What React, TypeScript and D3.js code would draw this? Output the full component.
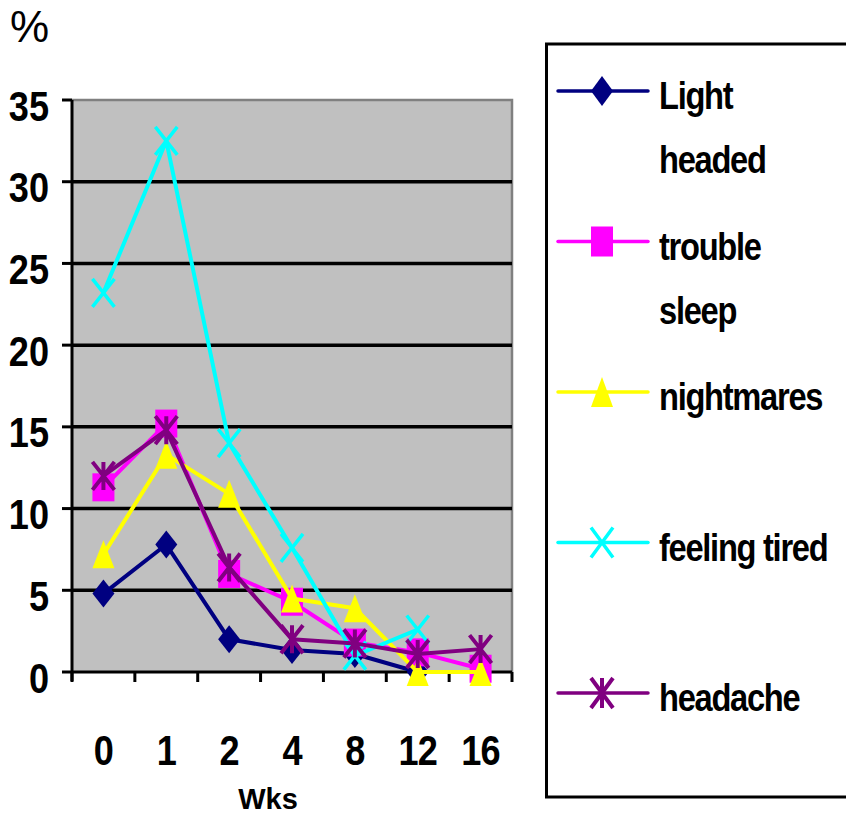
import React from "react";
import * as d3 from "d3";

// Weeks since start (category axis)
const weeks: string[] = ["0", "1", "2", "4", "8", "12", "16"];

// Percentage of patients reporting each symptom
const lightHeaded: (number | null)[] = [4.8, 7.8, 2.0, 1.35, 1.1, 0, 0];
const troubleSleep: (number | null)[] = [11.3, 15.2, 6.0, 4.3, 1.8, 1.2, 0.2];
const nightmares: (number | null)[] = [7.2, 13.3, 10.9, 4.5, 3.9, 0, 0];
const feelingTired: (number | null)[] = [23.2, 32.5, 14.0, 7.6, 1.0, 2.6, null];
const headache: (number | null)[] = [12.0, 14.8, 6.4, 2.0, 1.75, 1.1, 1.4];

const yTicks: number[] = [0, 5, 10, 15, 20, 25, 30, 35];

type Marker = "diamond" | "square" | "triangle" | "x" | "star";

const series = [
  { labels: ["Light", "headed"], values: lightHeaded, color: "#000080", marker: "diamond" as Marker },
  { labels: ["trouble", "sleep"], values: troubleSleep, color: "#FF00FF", marker: "square" as Marker },
  { labels: ["nightmares"], values: nightmares, color: "#FFFF00", marker: "triangle" as Marker },
  { labels: ["feeling tired"], values: feelingTired, color: "#00FFFF", marker: "x" as Marker },
  { labels: ["headache"], values: headache, color: "#800080", marker: "star" as Marker },
];

const W = 846;
const H = 815;
const plot = { left: 72, right: 512, top: 100, bottom: 672 };

const FONT = "'Liberation Sans', Arial, sans-serif";

// Marker shape drawn around (0,0); rx/ry are half width/height
function MarkerShape({ type, color, rx, ry }: { type: Marker; color: string; rx: number; ry: number }) {
  switch (type) {
    case "diamond":
      return <path d={`M0,${-ry}L${rx},0L0,${ry}L${-rx},0Z`} fill={color} />;
    case "square":
      return <rect x={-rx} y={-ry} width={rx * 2} height={ry * 2} fill={color} />;
    case "triangle":
      return <path d={`M0,${-ry}L${rx},${ry}L${-rx},${ry}Z`} fill={color} />;
    case "x":
      return (
        <path
          d={`M${-rx},${-ry}L${rx},${ry}M${rx},${-ry}L${-rx},${ry}`}
          stroke={color}
          strokeWidth={3.5}
          fill="none"
        />
      );
    case "star":
      return (
        <path
          d={`M${-rx},${-ry}L${rx},${ry}M${rx},${-ry}L${-rx},${ry}M0,${-ry}L0,${ry}`}
          stroke={color}
          strokeWidth={4}
          fill="none"
        />
      );
  }
}

function SqueezedText({
  x,
  y,
  text,
  size,
  sx,
  anchor = "start",
  weight = "bold",
  spacing = 0,
}: {
  x: number;
  y: number;
  text: string;
  size: number;
  sx: number;
  anchor?: "start" | "middle" | "end";
  weight?: string;
  spacing?: number;
}) {
  return (
    <text
      transform={`translate(${x},${y}) scale(${sx},1)`}
      fontFamily={FONT}
      fontSize={size}
      fontWeight={weight}
      textAnchor={anchor}
      letterSpacing={spacing}
      fill="#000"
    >
      {text}
    </text>
  );
}

export default function App() {
  const x = d3.scaleBand<string>().domain(weeks).range([plot.left, plot.right]).padding(0);
  const y = d3.scaleLinear().domain([0, 35]).range([plot.bottom, plot.top]);
  const cx = (w: string) => (x(w) as number) + x.bandwidth() / 2;

  const line = d3
    .line<number | null>()
    .defined((d) => d !== null)
    .x((_, i) => cx(weeks[i]))
    .y((d) => y(d as number));

  const boundaries = [...weeks.map((w) => x(w) as number), plot.right];

  const legendTop = 91;
  const legendStep = 150.5;

  return (
    <svg width={W} height={H} style={{ position: "absolute", left: 0, top: 0 }}>
      <rect x={0} y={0} width={W} height={H} fill="#fff" />

      {/* plot area */}
      <rect
        x={plot.left}
        y={plot.top}
        width={plot.right - plot.left}
        height={plot.bottom - plot.top}
        fill="#C0C0C0"
      />
      <path
        d={`M${plot.left},${plot.top}H${plot.right}V${plot.bottom}`}
        stroke="#808080"
        strokeWidth={2.5}
        fill="none"
      />

      {/* gridlines */}
      {yTicks
        .filter((t) => t > 0 && t < 35)
        .map((t) => (
          <line key={t} x1={plot.left} x2={plot.right} y1={y(t)} y2={y(t)} stroke="#000" strokeWidth={3.5} />
        ))}

      {/* y axis */}
      <line x1={plot.left} x2={plot.left} y1={plot.top} y2={plot.bottom + 9} stroke="#000" strokeWidth={3} />
      {yTicks.map((t) => (
        <g key={t}>
          <line x1={plot.left - 10} x2={plot.left} y1={y(t)} y2={y(t)} stroke="#000" strokeWidth={3} />
          <SqueezedText x={49} y={y(t) + 20.5} text={String(t)} size={42} sx={0.86} anchor="end" />
        </g>
      ))}

      {/* x axis */}
      <line x1={plot.left} x2={plot.right} y1={plot.bottom} y2={plot.bottom} stroke="#000" strokeWidth={3} />
      {boundaries.map((b, i) => (
        <line key={i} x1={b} x2={b} y1={plot.bottom} y2={plot.bottom + 10} stroke="#000" strokeWidth={3} />
      ))}
      {weeks.map((w) => (
        <SqueezedText key={w} x={cx(w)} y={765} text={w} size={42} sx={0.86} anchor="middle" spacing={-1} />
      ))}

      {/* series */}
      {series.map((s) => (
        <g key={s.labels.join(" ")}>
          <path d={line(s.values) || ""} stroke={s.color} strokeWidth={4} fill="none" strokeLinejoin="round" />
          {s.values.map((v, i) =>
            v === null ? null : (
              <g key={i} transform={`translate(${cx(weeks[i])},${y(v)})`}>
                <MarkerShape type={s.marker} color={s.color} rx={11} ry={14} />
              </g>
            )
          )}
        </g>
      ))}

      {/* axis titles */}
      <text x={10} y={42} fontFamily={FONT} fontSize={44} fill="#000">
        %
      </text>
      <text x={268} y={809} fontFamily={FONT} fontSize={29} fontWeight="bold" textAnchor="middle" fill="#000">
        Wks
      </text>

      {/* legend */}
      <rect x={546.5} y={44} width={330} height={753} fill="#fff" stroke="#000" strokeWidth={3} />
      {series.map((s, i) => {
        const ly = legendTop + i * legendStep;
        return (
          <g key={s.labels.join(" ")}>
            <line x1={558} x2={648} y1={ly} y2={ly} stroke={s.color} strokeWidth={3.5} strokeLinecap="round" />
            <g transform={`translate(602,${ly})`}>
              <MarkerShape type={s.marker} color={s.color} rx={11} ry={15} />
            </g>
            {s.labels.map((l, j) => (
              <SqueezedText key={l} x={659} y={ly + 18 + j * 64} text={l} size={38} sx={0.86} spacing={-1.5} />
            ))}
          </g>
        );
      })}
    </svg>
  );
}
